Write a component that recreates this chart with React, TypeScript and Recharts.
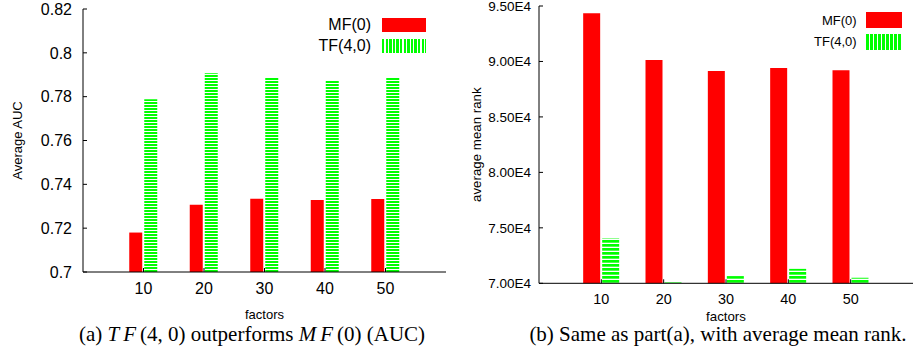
import { BarChart, Bar, XAxis, YAxis, Legend } from "recharts";

const factors = ["10", "20", "30", "40", "50"];

// (a) average AUC
const aucMF = [0.718, 0.7307, 0.7334, 0.7328, 0.7333];
const aucTF = [0.7788, 0.7907, 0.7887, 0.7872, 0.7888];
const aucTicks = [0.7, 0.72, 0.74, 0.76, 0.78, 0.8, 0.82];

// (b) average mean rank
const rankMF = [94350, 90130, 89140, 89410, 89200];
const rankTF = [74050, 70100, 70650, 71300, 70500];
const rankTicks = [70000, 75000, 80000, 85000, 90000, 95000];

const seriesNames = ["MF(0)", "TF(4,0)"];

const SANS = '"Liberation Sans", Arial, Helvetica, sans-serif';
const SERIF = '"Liberation Serif", "Times New Roman", serif';
const RED = "#ff0000";
const GREEN = "#00ff00";

const aucData = factors.map((f, i) => ({ f, mf: aucMF[i], tf: aucTF[i] }));
const rankData = factors.map((f, i) => ({ f, mf: rankMF[i], tf: rankTF[i] }));

function Swatch({ striped, w, h, period }: { striped: boolean; w: number; h: number; period: number }) {
  if (!striped) return <div style={{ width: w, height: h, background: RED }} />;
  return (
    <div
      style={{
        width: w,
        height: h,
        background: `repeating-linear-gradient(90deg, ${GREEN} 0px, ${GREEN} ${period * 0.66}px, #fff ${period * 0.66}px, #fff ${period}px)`,
      }}
    />
  );
}

function makeLegend(fontSize: number, rowH: number, sw: number, sh: number, gap: number, period: number) {
  return () => (
    <div style={{ fontFamily: SANS, fontSize, color: "#000" }}>
      {seriesNames.map((name, i) => (
        <div key={name} style={{ height: rowH, display: "flex", alignItems: "center", justifyContent: "flex-end" }}>
          <span style={{ marginRight: gap }}>{name}</span>
          <Swatch striped={i === 1} w={sw} h={sh} period={period} />
        </div>
      ))}
    </div>
  );
}

const fmtRank = (v: number) => (v / 10000).toFixed(2) + "E4";

const captionStyle = {
  position: "absolute" as const,
  top: 321,
  width: 600,
  textAlign: "center" as const,
  fontFamily: SERIF,
  fontSize: 21,
  lineHeight: "26px",
  whiteSpace: "nowrap" as const,
  color: "#000",
};

export default function App() {
  return (
    <div style={{ position: "absolute", left: 0, top: 0, width: 914, height: 353, background: "#fff" }}>
      <div style={{ position: "absolute", left: 0, top: 0 }}>
        <BarChart
          width={460}
          height={330}
          data={aucData}
          margin={{ top: 9, right: 14, bottom: 0, left: 0 }}
          barSize={13}
          barGap={2}
          style={{ fontFamily: SANS }}
        >
          <defs>
            <pattern id="stripeA" patternUnits="userSpaceOnUse" width="8" height="3">
              <rect width="8" height="3" fill="#fff" />
              <rect width="8" height="2" fill={GREEN} />
            </pattern>
          </defs>
          <XAxis
            dataKey="f"
            padding={{ left: 30.25, right: 30.25 }}
            height={58}
            tickSize={-4}
            tickMargin={15}
            stroke="#000"
            tick={{ fill: "#000", fontSize: 16 }}
            label={{ value: "factors", position: "insideBottom", offset: 11, fill: "#000", fontSize: 13 }}
          />
          <XAxis xAxisId="top" orientation="top" dataKey="f" padding={{ left: 30.25, right: 30.25 }} height={0} tick={false} tickSize={-4} stroke="#000" />
          <YAxis
            domain={[0.7, 0.82]}
            ticks={aucTicks}
            interval={0}
            width={83}
            tickSize={-4}
            tickMargin={15}
            stroke="#000"
            tick={{ fill: "#000", fontSize: 16 }}
            label={{ value: "Average AUC", angle: -90, position: "insideLeft", offset: 17, fill: "#000", fontSize: 13, style: { textAnchor: "middle" } }}
          />
          <YAxis yAxisId="right" orientation="right" domain={[0.7, 0.82]} ticks={aucTicks} interval={0} width={0} tick={false} tickSize={-4} stroke="#000" />
          <Bar dataKey="mf" name={seriesNames[0]} fill={RED} isAnimationActive={false} />
          <Bar dataKey="tf" name={seriesNames[1]} fill="url(#stripeA)" isAnimationActive={false} />
          <Legend
            layout="horizontal"
            verticalAlign="middle"
            align="center"
            content={makeLegend(16, 21.5, 44, 14, 11, 3.6)}
            wrapperStyle={{ top: 14, left: 276, width: 150 }}
          />
        </BarChart>
      </div>

      <div style={{ position: "absolute", left: 455, top: 0 }}>
        <BarChart
          width={459}
          height={330}
          data={rankData}
          margin={{ top: 6, right: 1, bottom: 0, left: 0 }}
          barSize={17}
          barGap={2}
          style={{ fontFamily: SANS }}
        >
          <defs>
            <pattern id="stripeB" patternUnits="userSpaceOnUse" width="8" height="4">
              <rect width="8" height="4" fill="#fff" />
              <rect width="8" height="2.7" fill={GREEN} />
            </pattern>
          </defs>
          <XAxis
            dataKey="f"
            padding={{ left: 31.17, right: 31.17 }}
            height={46.7}
            tickSize={-4}
            tickMargin={14}
            stroke="#000"
            tick={{ fill: "#000", fontSize: 14.4 }}
            label={{ value: "factors", position: "insideBottom", offset: 9.3, fill: "#000", fontSize: 13.3 }}
          />
          <XAxis xAxisId="top" orientation="top" dataKey="f" padding={{ left: 31.17, right: 31.17 }} height={0} tick={false} tickSize={-4} stroke="#000" />
          <YAxis
            domain={[70000, 95000]}
            ticks={rankTicks}
            interval={0}
            width={84}
            tickSize={-4}
            tickMargin={12}
            stroke="#000"
            tick={{ fill: "#000", fontSize: 13.5 }}
            tickFormatter={fmtRank}
            label={{ value: "average mean rank", angle: -90, position: "insideLeft", offset: 21.7, fill: "#000", fontSize: 13.3, style: { textAnchor: "middle" } }}
          />
          <YAxis yAxisId="right" orientation="right" domain={[70000, 95000]} ticks={rankTicks} interval={0} width={0} tick={false} tickSize={-4} stroke="#000" />
          <Bar dataKey="mf" name={seriesNames[0]} fill={RED} isAnimationActive={false} />
          <Bar dataKey="tf" name={seriesNames[1]} fill="url(#stripeB)" isAnimationActive={false} />
          <Legend
            layout="horizontal"
            verticalAlign="middle"
            align="center"
            content={makeLegend(13, 21.4, 36, 16, 9, 4)}
            wrapperStyle={{ top: 9.6, left: 296.7, width: 150 }}
          />
        </BarChart>
      </div>

      <div style={{ ...captionStyle, left: 252 - 300 }}>
        (a) <i style={{ letterSpacing: 4 }}>TF</i>(4, 0) outperforms <i style={{ letterSpacing: 4 }}>MF</i>(0) (AUC)
      </div>
      <div style={{ ...captionStyle, left: 718 - 300 }}>
        (b) Same as part(a), with average mean rank.
      </div>
    </div>
  );
}
